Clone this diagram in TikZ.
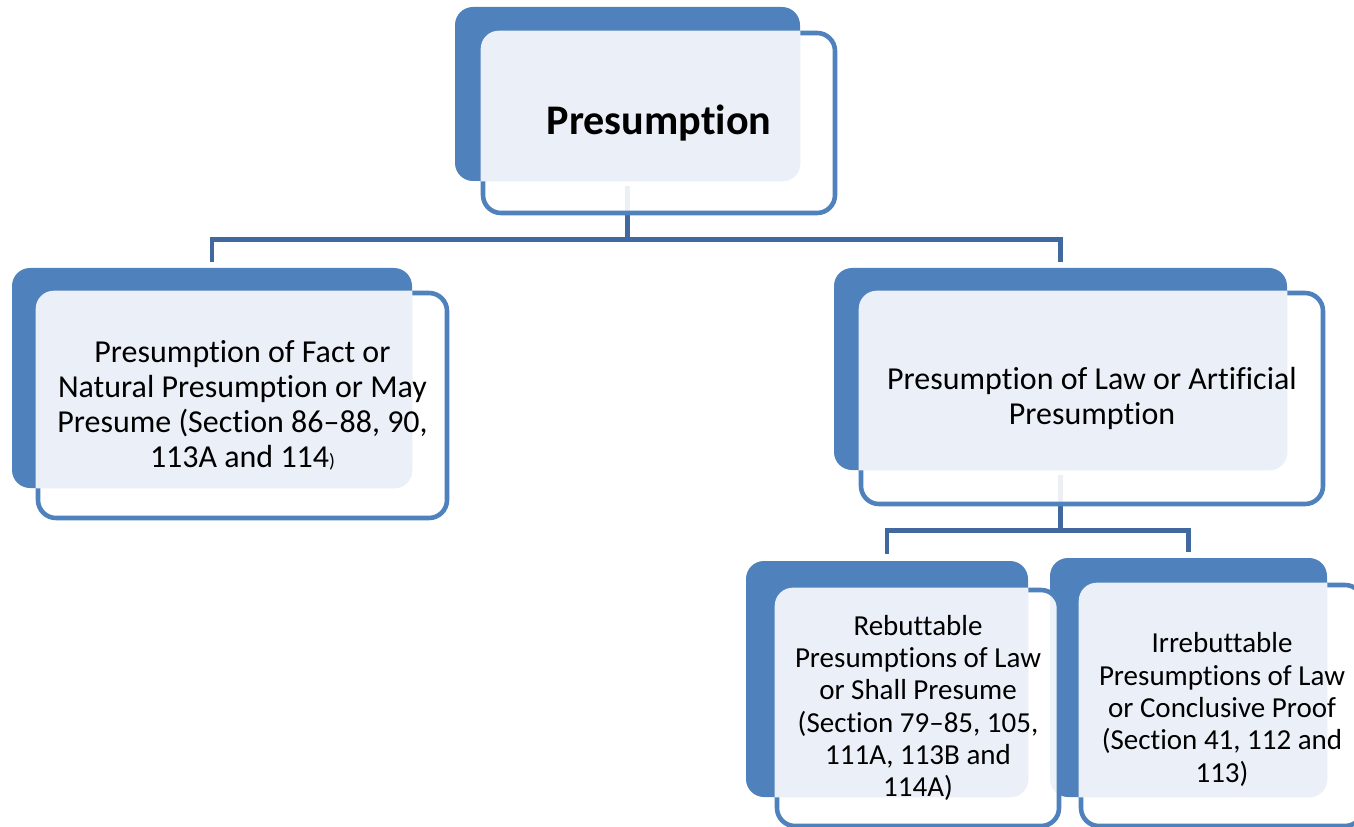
\documentclass[tikz,border=0pt]{standalone}
\usepackage{fontspec}
\setmainfont{Carlito}[Ligatures = {TeX, NoCommon}]
\usepackage{tikz}
\usetikzlibrary{fit}
\definecolor{presblue}{RGB}{79,129,189}
\definecolor{connblue}{RGB}{65,105,160}
\definecolor{paleblue}{RGB}{235,240,248}
\tikzset{backbox/.style = {fill = presblue, rounded corners = 0.36cm, inner sep = 0}}
\tikzset{frontbox/.style = {draw = presblue, line width = 2.6pt, fill = white, fill opacity = 0.9, rounded corners = 0.36cm, inner sep = 0}}
\tikzset{lightfill/.style = {fill = paleblue, rounded corners = 0.36cm}}
\tikzset{conn/.style = {draw = connblue, line width = 2.8pt}}
\tikzset{toptext/.style = {font = \fontsize{24}{27}\selectfont\bfseries}}
\tikzset{midtext/.style = {align = center, font = \fontsize{18.2}{19.8}\selectfont}}
\tikzset{lowtext/.style = {align = center, font = \fontsize{16.5}{18.4}\selectfont}}

\begin{document}
\begin{tikzpicture}[x = 0.02cm, y = -0.02cm]

    \fill [white] (0, 0) rectangle (1354, 827);
    \useasboundingbox (0, 0) rectangle (1354, 827);

    % back cards
    \node [backbox, fit = {(455, 7) (800, 181)}] (topB) {};
    \node [backbox, fit = {(12, 268) (412, 488)}] (factB) {};
    \node [backbox, fit = {(834, 268) (1287, 470)}] (lawB) {};
    \node [backbox, fit = {(746, 561) (1028, 797)}] (rebB) {};
    \node [backbox, fit = {(1050, 558) (1327, 797)}] (irrB) {};

    % connectors
    \draw [conn] ([yshift = -0.1cm] topB.south) -- ++(0, 53) -| ([yshift = 0.12cm] factB.north);
    \draw [conn] ([yshift = -0.1cm] topB.south) -- ++(0, 53) -| ([yshift = 0.12cm] lawB.north);
    \draw [conn] ([yshift = -0.1cm] lawB.south) -- ++(0, 55) -| ([yshift = 0.14cm] rebB.north);
    \draw [conn] ([yshift = -0.1cm] lawB.south) -- ++(0, 55) -| ([yshift = 0.12cm] irrB.north);

    % front cards
    \node [frontbox, fit = {(483, 33) (835, 213)}] (topF) {};
    \node [frontbox, fit = {(38, 293) (447, 518)}] (factF) {};
    \node [frontbox, fit = {(861, 293) (1323, 504)}] (lawF) {};
    \node [frontbox, fit = {(777, 590) (1059, 826)}] (rebF) {};
    \node [frontbox, fit = {(1081, 585) (1363, 826)}] (irrF) {};

    \begin{scope} \clip [rounded corners = 0.36cm] (topB.south west) rectangle (topB.north east); \fill [lightfill] (topF.south west) rectangle (topF.north east); \end{scope}
    \begin{scope} \clip [rounded corners = 0.36cm] (factB.south west) rectangle (factB.north east); \fill [lightfill] (factF.south west) rectangle (factF.north east); \end{scope}
    \begin{scope} \clip [rounded corners = 0.36cm] (lawB.south west) rectangle (lawB.north east); \fill [lightfill] (lawF.south west) rectangle (lawF.north east); \end{scope}
    \begin{scope} \clip [rounded corners = 0.36cm] (rebB.south west) rectangle (rebB.north east); \fill [lightfill] (rebF.south west) rectangle (rebF.north east); \end{scope}
    \begin{scope} \clip [rounded corners = 0.36cm] (irrB.south west) rectangle (irrB.north east); \fill [lightfill] (irrF.south west) rectangle (irrF.north east); \end{scope}

    % texts
    \node [toptext] (topT) at (topF.center) {Presumption};
    \node [midtext] (factT) at (factF.center) {Presumption of Fact or\\Natural Presumption or May\\Presume (Section 86–88, 90,\\113A and 114{\fontsize{11}{12}\selectfont)}};
    \node [midtext] (lawT) at (lawF.center) {Presumption of Law or Artificial\\Presumption};
    \node [lowtext] (rebT) at (rebF.center) {Rebuttable\\Presumptions of Law\\or Shall Presume\\(Section 79–85, 105,\\111A, 113B and\\114A)};
    \node [lowtext] (irrT) at ([yshift = -0.08cm] irrF.center) {Irrebuttable\\Presumptions of Law\\or Conclusive Proof\\(Section 41, 112 and\\113)};
  \end{tikzpicture}
\end{document}
